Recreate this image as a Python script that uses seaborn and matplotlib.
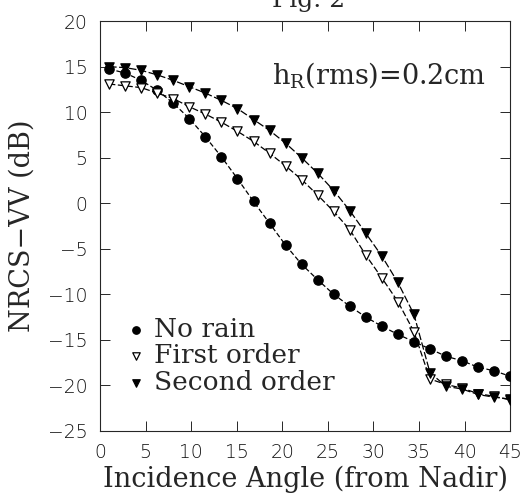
import numpy as np
import pandas as pd
import matplotlib
matplotlib.use('Agg')
import matplotlib.pyplot as plt
import seaborn as sns

# incidence angles (deg) of the computed points
angle = [1.0, 2.76, 4.52, 6.28, 8.04, 9.8, 11.56, 13.32, 15.08, 16.84,
         18.6, 20.36, 22.12, 23.88, 25.64, 27.4, 29.16, 30.92, 32.68, 34.44,
         36.2, 37.96, 39.72, 41.48, 43.24, 45.0]

no_rain = [14.75, 14.3, 13.5, 12.4, 11.0, 9.3, 7.3, 5.1, 2.7, 0.2,
           -2.2, -4.6, -6.7, -8.4, -10.0, -11.3, -12.5, -13.5, -14.4, -15.2,
           -16.0, -16.8, -17.3, -18.0, -18.4, -19.0]
first_order = [13.1, 12.9, 12.7, 12.1, 11.5, 10.6, 9.8, 8.9, 7.9, 6.8,
               5.5, 4.1, 2.6, 0.9, -0.9, -2.9, -5.7, -8.2, -10.8, -14.1,
               -19.3, -19.9, -20.3, -20.9, -21.2, -21.6]
second_order = [15.0, 14.9, 14.6, 14.1, 13.5, 12.8, 12.1, 11.3, 10.4, 9.2,
                8.0, 6.6, 5.0, 3.3, 1.4, -0.8, -3.3, -5.8, -8.7, -12.2,
                -18.6, -20.1, -20.4, -21.0, -21.3, -21.5]

x_ticks = [0, 5, 10, 15, 20, 25, 30, 35, 40, 45]
y_ticks = [20, 15, 10, 5, 0, -5, -10, -15, -20, -25]

sns.set_style('ticks')
plt.rcParams['font.family'] = ['DejaVu Serif']
plt.rcParams['mathtext.fontset'] = 'dejavuserif'

df = pd.DataFrame({'angle': angle, 'No rain': no_rain,
                   'First order': first_order, 'Second order': second_order})

fig = plt.figure(figsize=(5.32, 5.04), dpi=100)
ax = fig.add_axes([0.188, 0.145, 0.771, 0.813])

series = [
    ('No rain', 'o', 'black', (0, (4, 2))),
    ('First order', 'v', 'white', (0, (5, 2))),
    ('Second order', 'v', 'black', (0, (6, 2))),
]
for name, mk, face, dash in series:
    sns.lineplot(data=df, x='angle', y=name, ax=ax, color='black',
                 linewidth=0.9, linestyle=dash, legend=False)
    sns.scatterplot(data=df, x='angle', y=name, ax=ax, marker=mk, s=45,
                    facecolor=face, edgecolor='black', linewidth=0.9,
                    label=name, zorder=3)

ax.set_xlim(0, 45)
ax.set_ylim(-25, 20)
ax.set_xticks(x_ticks)
ax.set_yticks(y_ticks)
ax.tick_params(direction='in', length=7, width=0.7, top=True, right=True,
               pad=9, labelsize=13.5, labelcolor='#111111')
for lab in ax.get_xticklabels() + ax.get_yticklabels():
    lab.set_family('DejaVu Sans')
    lab.set_fontweight('light')
for sp in ax.spines.values():
    sp.set_linewidth(0.8)

ax.set_xlabel('Incidence Angle (from Nadir)', fontsize=19.5, labelpad=2)
ax.set_ylabel('NRCS\u2212VV (dB)', fontsize=19.5, labelpad=9)

ax.text(0.94, 0.849, r'h$_\mathrm{R}$(rms)=0.2cm', transform=ax.transAxes,
        ha='right', va='baseline', fontsize=19.5)

ax.legend(loc='upper left', bbox_to_anchor=(0.02, 0.31), frameon=False,
          fontsize=19, handletextpad=0.15, labelspacing=0.05, borderpad=0,
          handlelength=1.1, markerscale=0.8)

fig.text(0.58, 1.0, 'Fig. 2', ha='center', va='center', fontsize=18)

fig.savefig('out.png', dpi=100)
